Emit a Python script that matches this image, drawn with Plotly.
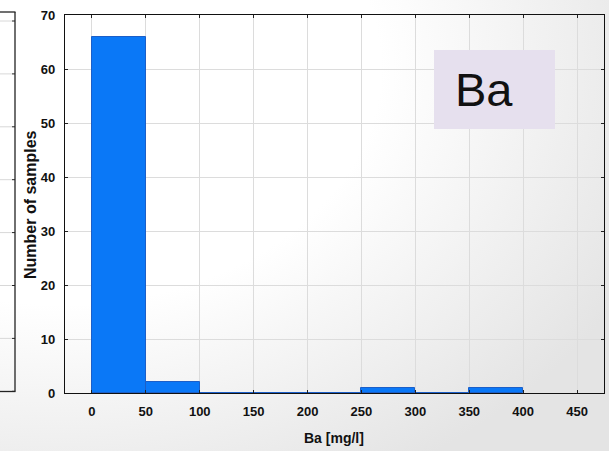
import base64
import plotly.graph_objects as go

# Data
bin_edges = [0, 50, 100, 150, 200, 250, 300, 350, 400]
counts = [66, 2, 0, 0, 0, 1, 0, 1]
x_ticks = [0, 50, 100, 150, 200, 250, 300, 350, 400, 450]
y_ticks = [0, 10, 20, 30, 40, 50, 60, 70]

centers = [(a + b) / 2 for a, b in zip(bin_edges[:-1], bin_edges[1:])]
widths = [b - a for a, b in zip(bin_edges[:-1], bin_edges[1:])]

W, H = 609, 451
L, R, T, B = 65, 5, 15, 58
PW, PH = W - L - R, H - T - B


def px(x):
    return (x - L) / PW


def py(y):
    return (H - B - y) / PH


fig = go.Figure()
fig.add_trace(go.Bar(
    x=centers, y=counts, width=widths,
    marker=dict(color="#0a78f7", line=dict(color="#1c5fc8", width=1)),
    showlegend=False,
))

# background gradient
svg = f'''<svg xmlns="http://www.w3.org/2000/svg" width="{W}" height="{H}" preserveAspectRatio="none">
<defs><radialGradient id="g" cx="0.1" cy="0.15" r="1.05">
<stop offset="0.5" stop-color="#ffffff"/>
<stop offset="1" stop-color="#e4e4e4"/>
</radialGradient></defs>
<rect width="{W}" height="{H}" fill="url(#g)"/></svg>'''
src = "data:image/svg+xml;base64," + base64.b64encode(svg.encode()).decode()
fig.add_layout_image(dict(source=src, xref="paper", yref="paper",
                          x=px(0), y=py(0), sizex=px(W) - px(0), sizey=py(0) - py(H),
                          xanchor="left", yanchor="top", sizing="stretch", layer="below"))

shapes = []
# fragment of neighbouring chart at left edge
for i in range(8):
    yy = 21 + i * 52.9
    if i < 7:
        shapes.append(dict(type="line", xref="paper", yref="paper", x0=px(0), x1=px(12),
                           y0=py(yy), y1=py(yy), line=dict(color="#d8d8d8", width=1)))
    shapes.append(dict(type="line", xref="paper", yref="paper", x0=px(12), x1=px(15),
                       y0=py(yy), y1=py(yy), line=dict(color="#222", width=1)))
shapes.append(dict(type="line", xref="paper", yref="paper", x0=px(0), x1=px(15.5),
                   y0=py(12), y1=py(12), line=dict(color="#222", width=1.3)))
shapes.append(dict(type="line", xref="paper", yref="paper", x0=px(15), x1=px(15),
                   y0=py(12), y1=py(391.5), line=dict(color="#222", width=1.3)))
shapes.append(dict(type="line", xref="paper", yref="paper", x0=px(0), x1=px(15.5),
                   y0=py(391.5), y1=py(391.5), line=dict(color="#222", width=1.3)))
# label box
shapes.append(dict(type="rect", xref="paper", yref="paper", x0=px(434), x1=px(555),
                   y0=py(129), y1=py(50), fillcolor="#e6e0ee", line=dict(width=0),
                   layer="above"))
fig.update_layout(shapes=shapes)

fig.add_annotation(text="Ba", xref="paper", yref="paper", x=px(453), y=py(90),
                   xanchor="left", yanchor="middle", showarrow=False,
                   font=dict(family="Arial, Liberation Sans", size=47, color="#111"))
fig.add_annotation(text="<b>Ba [mg/l]</b>", xref="paper", yref="paper", x=px(334), y=py(438),
                   xanchor="center", yanchor="middle", showarrow=False,
                   font=dict(family="Arial, Liberation Sans", size=14, color="#111"))
fig.add_annotation(text="<b>Number of samples</b>", xref="paper", yref="paper", x=px(30), y=py(205),
                   xanchor="center", yanchor="middle", showarrow=False, textangle=-90,
                   font=dict(family="Arial, Liberation Sans", size=16, color="#111"))

tickfont = dict(family="Liberation Sans Narrow, Arial Narrow, Arial", size=13, color="#111", weight="bold")
axis_common = dict(showgrid=True, gridcolor="#dcdcdc", gridwidth=1, showline=True,
                   linecolor="#111", linewidth=1.3, mirror="ticks", ticks="inside",
                   ticklen=3, tickcolor="#222", zeroline=False, tickfont=tickfont)
fig.update_xaxes(range=[-25, 475], tickvals=x_ticks, ticklabelstandoff=6, **axis_common)
fig.update_yaxes(range=[0, 70], tickvals=y_ticks, ticklabelstandoff=6, **axis_common)

fig.update_layout(width=W, height=H, margin=dict(l=L, r=R, t=T, b=B),
                  paper_bgcolor="rgba(0,0,0,0)", plot_bgcolor="white", bargap=0,
                  font=dict(family="Arial, Liberation Sans"))
fig.write_html("out.html", config={"displayModeBar": False},
               post_script="document.body.style.margin='0';document.body.style.padding='0';")
